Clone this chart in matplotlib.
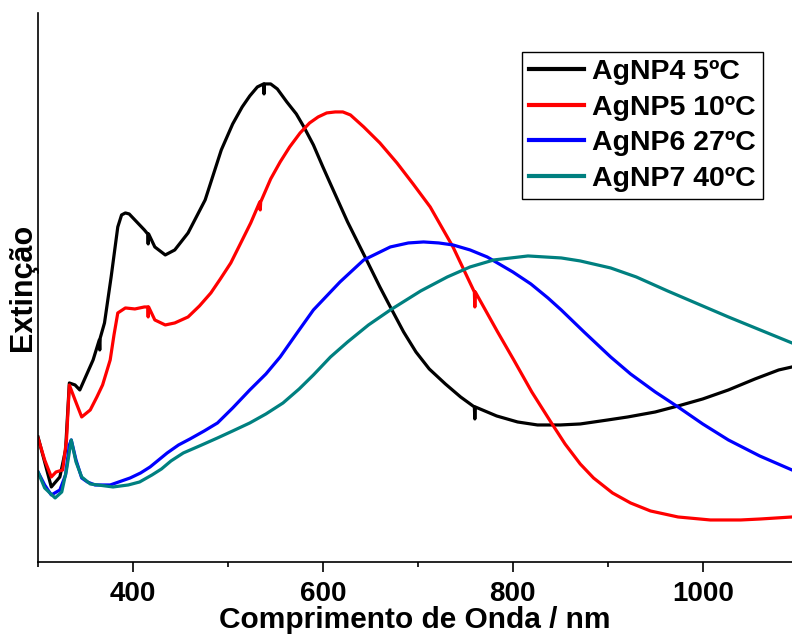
# Extinction spectra of AgNP samples (recreated figure).
import matplotlib
matplotlib.use("Agg")
import matplotlib.pyplot as plt
from matplotlib.ticker import MultipleLocator

plt.rcParams["font.family"] = ["Liberation Sans", "DejaVu Sans"]
plt.rcParams["font.weight"] = "bold"

# Values (arbitrary extinction units).
nm_agnp4 = [300, 307, 314, 323, 329, 333, 339, 344, 358, 364.5, 365, 365.5, 370, 377, 384,
            388, 392, 396, 402, 412, 415.5, 416, 416.5, 423, 434, 444, 458, 476, 493, 505,
            515, 523, 531, 537.5, 538, 538.5, 545, 552, 562, 572, 580, 590, 600, 608, 626,
            647, 660, 671, 685, 698, 712, 729, 745, 759.5, 760, 760.5, 783, 805, 826, 850,
            871, 900, 921, 950, 974, 1000, 1027, 1055, 1080, 1094]
ext_agnp4 = [1.25, 1.00, 0.75, 0.85, 1.12, 1.79, 1.77, 1.72, 2.02, 2.22, 2.12, 2.24, 2.39, 2.85, 3.35,
             3.47, 3.49, 3.48, 3.42, 3.32, 3.28, 3.18, 3.28, 3.15, 3.07, 3.12, 3.29, 3.62, 4.12, 4.38,
             4.55, 4.66, 4.75, 4.78, 4.68, 4.78, 4.78, 4.73, 4.60, 4.48, 4.35, 4.17, 3.95, 3.78, 3.40,
             3.00, 2.75, 2.55, 2.30, 2.10, 1.93, 1.78, 1.65, 1.55, 1.43, 1.55, 1.46, 1.40, 1.37, 1.37,
             1.38, 1.42, 1.45, 1.50, 1.56, 1.63, 1.72, 1.83, 1.92, 1.95]

nm_agnp5 = [300, 307, 314, 319, 326, 330, 333, 339, 346, 355, 362, 368, 376, 380, 384, 392, 402,
            412, 415.5, 416, 416.5, 423, 434, 444, 458, 470, 482, 492, 503, 513, 524, 533.5, 534,
            534.5, 545, 555, 565, 576, 586, 595, 604, 613, 621, 629, 643, 660, 678, 695, 713, 737,
            759.5, 760, 760.5, 784, 801, 820, 840, 855, 871, 885, 905, 924, 945, 974, 1008, 1040,
            1061, 1094]
ext_agnp5 = [1.24, 1.02, 0.85, 0.90, 0.92, 1.22, 1.77, 1.62, 1.45, 1.52, 1.65, 1.77, 2.02, 2.27, 2.49, 2.54, 2.53,
             2.55, 2.55, 2.45, 2.55, 2.42, 2.37, 2.39, 2.45, 2.56, 2.69, 2.83, 2.99, 3.18, 3.39, 3.60, 3.52,
             3.60, 3.83, 4.00, 4.15, 4.29, 4.39, 4.45, 4.49, 4.50, 4.50, 4.47, 4.35, 4.19, 3.99, 3.78, 3.55, 3.15,
             2.70, 2.55, 2.70, 2.30, 2.02, 1.70, 1.40, 1.18, 0.98, 0.84, 0.69, 0.59, 0.51, 0.45, 0.42, 0.42,
             0.43, 0.45]

nm_agnp6 = [300, 307, 314, 323, 329, 333, 335, 340, 346, 352, 360, 376, 397, 408, 418, 427, 436,
            448, 460, 475, 489, 505, 523, 540, 555, 572, 590, 618, 643, 671, 690, 706, 722, 737,
            755, 773, 800, 819, 837, 851, 875, 903, 924, 950, 974, 1000, 1027, 1060, 1094]
ext_agnp6 = [0.90, 0.77, 0.67, 0.72, 0.87, 1.17, 1.22, 1.02, 0.84, 0.80, 0.77, 0.77, 0.84, 0.89, 0.95, 1.02, 1.09,
             1.17, 1.23, 1.31, 1.39, 1.54, 1.72, 1.88, 2.05, 2.28, 2.52, 2.80, 3.02, 3.15, 3.19, 3.20, 3.19, 3.17,
             3.12, 3.05, 2.90, 2.78, 2.64, 2.52, 2.30, 2.05, 1.88, 1.70, 1.55, 1.38, 1.22, 1.06, 0.92]

nm_agnp7 = [300, 307, 318, 325, 330, 335, 340, 346, 355, 379, 395, 407, 420, 430, 440, 453, 470,
            489, 505, 523, 540, 558, 575, 590, 608, 626, 648, 671, 703, 731, 755, 780, 816, 851,
            871, 903, 930, 963, 1027, 1094]
ext_agnp7 = [0.90, 0.74, 0.64, 0.70, 0.92, 1.22, 1.00, 0.85, 0.78, 0.75, 0.77, 0.80, 0.87, 0.93, 1.01, 1.09, 1.16,
             1.24, 1.31, 1.39, 1.48, 1.59, 1.73, 1.87, 2.05, 2.20, 2.37, 2.52, 2.71, 2.85, 2.95, 3.02, 3.06, 3.04,
             3.01, 2.94, 2.85, 2.71, 2.45, 2.19]

labels = ["AgNP4 5ºC", "AgNP5 10ºC", "AgNP6 27ºC", "AgNP7 40ºC"]
colors = ["#000000", "#ff0000", "#0000ff", "#008080"]

fig = plt.figure(figsize=(7.92, 6.34), dpi=100)
ax = fig.add_axes([0.048, 0.1136, 0.952, 0.866])

series = [(nm_agnp4, ext_agnp4), (nm_agnp5, ext_agnp5),
          (nm_agnp6, ext_agnp6), (nm_agnp7, ext_agnp7)]
for (x, y), lab, col in zip(series, labels, colors):
    ax.plot(x, y, color=col, lw=2.3, label=lab, solid_joinstyle="round")

ax.set_xlim(300, 1094)
ax.set_ylim(0, 5.49)
ax.xaxis.set_major_locator(MultipleLocator(200))
ax.xaxis.set_minor_locator(MultipleLocator(100))
ax.set_yticks([])
ax.tick_params(axis="x", which="major", direction="out", length=7, width=1.2,
               labelsize=20, pad=7)
ax.tick_params(axis="x", which="minor", direction="out", length=3.5, width=1.2)
for side in ("top", "right"):
    ax.spines[side].set_visible(False)
for side in ("left", "bottom"):
    ax.spines[side].set_linewidth(1.2)

ax.set_xlabel("Comprimento de Onda / nm", fontsize=21.5, fontweight="bold", labelpad=-1)
ax.set_ylabel("Extinção", fontsize=22, fontweight="bold", labelpad=0)

leg = ax.legend(loc="upper right", bbox_to_anchor=(0.9615, 0.929), fontsize=20.5,
                frameon=True, fancybox=False, edgecolor="black", framealpha=1,
                handlelength=1.9, handletextpad=0.3, labelspacing=0.34,
                borderpad=0.25, borderaxespad=0)
leg.get_frame().set_linewidth(1.0)
for line in leg.get_lines():
    line.set_linewidth(3)

fig.savefig("out.png", dpi=100)
